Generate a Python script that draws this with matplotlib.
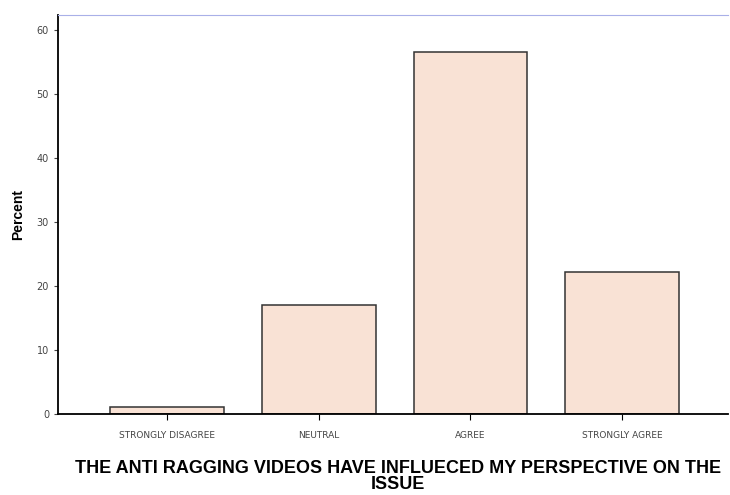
import matplotlib.pyplot as plt

categorias = ["STRONGLY DISAGREE", "NEUTRAL", "AGREE", "STRONGLY AGREE"]
percentuais = [1.1, 17.1, 56.6, 22.1]
yticks = [0, 10, 20, 30, 40, 50, 60]

titulo_x = "THE ANTI RAGGING VIDEOS HAVE INFLUECED MY PERSPECTIVE ON THE\nISSUE"
titulo_y = "Percent"

fig = plt.figure(figsize=(7.3, 4.95), dpi=100)
ax = fig.add_axes([0.0795, 0.1636, 0.918, 0.806])

pos = range(len(categorias))
ax.bar(pos, percentuais, width=0.75, color="#f9e2d5", edgecolor="#333333", linewidth=1.1)

ax.set_xlim(-0.72, 3.7)
ax.set_ylim(0, 62.3)
ax.set_yticks(yticks)
ax.set_xticks(list(pos))
ax.set_xticklabels(categorias, fontsize=6.5, color="#444444")
ax.tick_params(axis="y", labelsize=7, colors="#444444", length=3)
ax.tick_params(axis="x", length=4, pad=8)

ax.set_xlabel(titulo_x, fontsize=13, family="Liberation Sans", fontweight="bold",
              labelpad=12, linespacing=0.95)
ax.xaxis.set_label_coords(0.507, -0.115)
ax.set_ylabel(titulo_y, fontsize=10, family="Liberation Sans", fontweight="bold", labelpad=8)

ax.spines["right"].set_visible(False)
ax.spines["top"].set_color("#a9b0e8")
ax.spines["left"].set_linewidth(1.3)
ax.spines["bottom"].set_linewidth(1.3)

plt.savefig("out.png", dpi=100)
